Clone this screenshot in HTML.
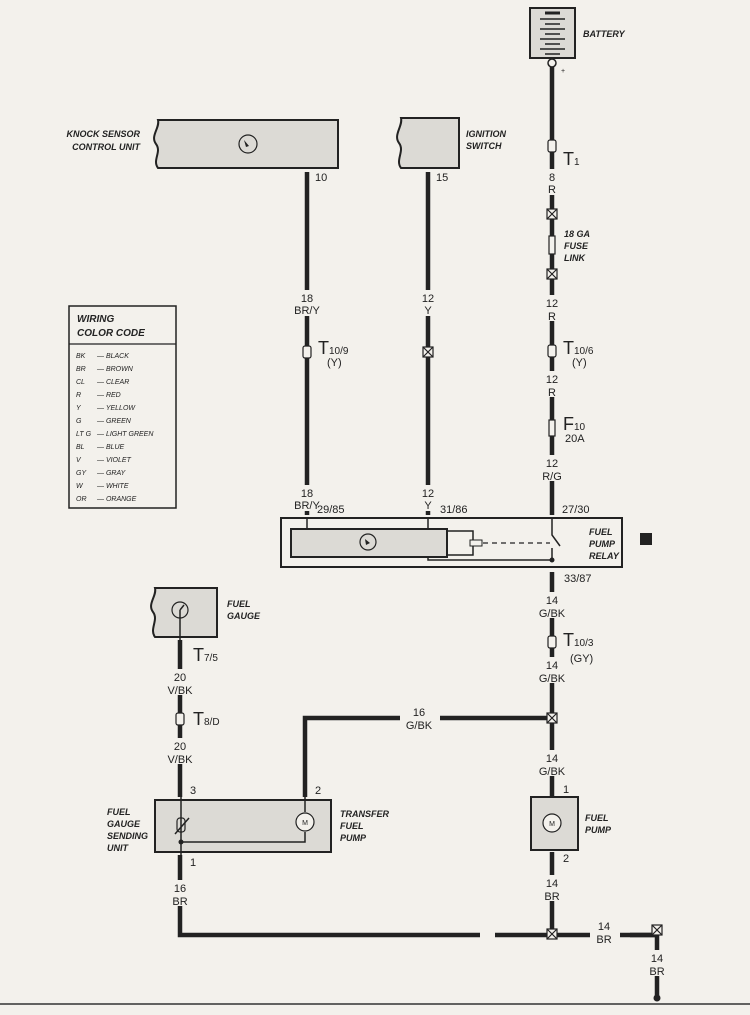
<!DOCTYPE html>
<html><head><meta charset="utf-8"><style>
html,body{margin:0;padding:0;background:#f3f1ec;}
svg{display:block;}
text{font-family:"Liberation Sans",sans-serif;fill:#222;}
.l{font-size:11px;}
.b{font-size:9px;font-weight:bold;font-style:italic;}
.t{font-size:7px;}
.w{stroke:#222;stroke-width:4.5;fill:none;}
.thin{stroke:#222;stroke-width:1.5;fill:none;}
.box{fill:#dcdad5;stroke:#222;stroke-width:2;}
</style></head><body>
<svg width="750" height="1015" viewBox="0 0 750 1015" xmlns="http://www.w3.org/2000/svg">
<!-- wires -->
<path class="w" d="M552 62 V515"/>
<path class="w" d="M307 172 V515"/>
<path class="w" d="M428 172 V515"/>
<path class="w" d="M552 572 V797"/>
<path class="w" d="M305 797 V718 H400 M440 718 H552"/>
<path class="w" d="M180 640 V797"/>
<path class="w" d="M552 852 V935 M180 855 V935 H480 M495 935 H657 V998"/>
<path class="w" d="M630 935 H657"/>
<line x1="0" y1="1004" x2="750" y2="1004" stroke="#333" stroke-width="1.5"/>
<circle cx="657" cy="998" r="3.5" fill="#222"/>
<!-- label gaps -->
<g fill="#f3f1ec">
<rect x="300" y="290" width="16" height="26"/><rect x="300" y="485" width="16" height="26"/>
<rect x="421" y="290" width="16" height="26"/><rect x="421" y="485" width="16" height="26"/>
<rect x="545" y="169" width="16" height="26"/><rect x="545" y="295" width="16" height="26"/>
<rect x="545" y="371" width="16" height="26"/><rect x="545" y="455" width="16" height="26"/>
<rect x="545" y="592" width="16" height="26"/><rect x="545" y="657" width="16" height="26"/>
<rect x="545" y="750" width="16" height="26"/><rect x="545" y="875" width="16" height="26"/>
<rect x="173" y="669" width="16" height="26"/><rect x="173" y="738" width="16" height="26"/>
<rect x="173" y="880" width="16" height="26"/><rect x="650" y="950" width="16" height="26"/>
<rect x="590" y="930" width="30" height="10"/>
</g>
<!-- battery -->
<rect x="530" y="8" width="45" height="50" class="box" fill="#dcdad5"/>
<g stroke="#222" stroke-width="1.5">
<line x1="545" y1="13" x2="560" y2="13" stroke-width="3"/>
<line x1="540" y1="19" x2="565" y2="19"/><line x1="545" y1="24" x2="560" y2="24"/>
<line x1="540" y1="29" x2="565" y2="29"/><line x1="545" y1="34" x2="560" y2="34"/>
<line x1="540" y1="39" x2="565" y2="39"/><line x1="545" y1="44" x2="560" y2="44"/>
<line x1="540" y1="49" x2="565" y2="49"/><line x1="545" y1="54" x2="560" y2="54"/>
</g>
<circle cx="552" cy="63" r="4" fill="#f3f1ec" stroke="#222" stroke-width="1.5"/>
<text class="b" x="583" y="37">BATTERY</text>
<text class="t" x="561" y="73">+</text>
<!-- connectors -->
<g fill="#f3f1ec" stroke="#222" stroke-width="1.2">
<rect x="548" y="140" width="8" height="12" rx="2"/>
<rect x="548" y="345" width="8" height="12" rx="2"/>
<rect x="548" y="636" width="8" height="12" rx="2"/>
<rect x="303" y="346" width="8" height="12" rx="2"/>
<rect x="176" y="713" width="8" height="12" rx="2"/>
<rect x="549" y="236" width="6" height="18"/>
<rect x="549" y="420" width="6" height="16"/>
</g>
<g fill="#f3f1ec" stroke="#222" stroke-width="1.2">
<rect x="547" y="209" width="10" height="10"/><path d="M547 209 L557 219 M557 209 L547 219"/>
<rect x="547" y="269" width="10" height="10"/><path d="M547 269 L557 279 M557 269 L547 279"/>
<rect x="423" y="347" width="10" height="10"/><path d="M423 347 L433 357 M433 347 L423 357"/>
<rect x="547" y="713" width="10" height="10"/><path d="M547 713 L557 723 M557 713 L547 723"/>
<rect x="547" y="929" width="10" height="10"/><path d="M547 929 L557 939 M557 929 L547 939"/>
<rect x="652" y="925" width="10" height="10"/><path d="M652 925 L662 935 M662 925 L652 935"/>
</g>
<text x="563" y="165" style="font-size:18px">T<tspan style="font-size:10px">1</tspan></text>
<text class="l" x="552" y="181" text-anchor="middle">8</text><text class="l" x="552" y="193" text-anchor="middle">R</text>
<text class="b" x="564" y="237">18 GA</text><text class="b" x="564" y="249">FUSE</text><text class="b" x="564" y="261">LINK</text>
<text class="l" x="552" y="307" text-anchor="middle">12</text><text class="l" x="552" y="320" text-anchor="middle">R</text>
<text x="563" y="354" style="font-size:18px">T<tspan style="font-size:10px">10/6</tspan></text>
<text class="l" x="572" y="366">(Y)</text>
<text class="l" x="552" y="383" text-anchor="middle">12</text><text class="l" x="552" y="396" text-anchor="middle">R</text>
<text x="563" y="430" style="font-size:18px">F<tspan style="font-size:10px">10</tspan></text>
<text class="l" x="565" y="442">20A</text>
<text class="l" x="552" y="467" text-anchor="middle">12</text><text class="l" x="552" y="480" text-anchor="middle">R/G</text>
<!-- knock sensor -->
<path class="box" d="M158 120 H338 V168 H158 C152 160 162 152 156 144 C150 136 160 128 158 120 Z"/>
<circle cx="248" cy="144" r="9" fill="none" stroke="#222" stroke-width="1.2"/>
<path d="M244 140 L249 146 L246 147 Z" fill="#222"/>
<text class="b" x="140" y="137" text-anchor="end">KNOCK SENSOR</text>
<text class="b" x="140" y="150" text-anchor="end">CONTROL UNIT</text>
<text class="l" x="315" y="181">10</text>
<text class="l" x="307" y="302" text-anchor="middle">18</text><text class="l" x="307" y="314" text-anchor="middle">BR/Y</text>
<text x="318" y="354" style="font-size:18px">T<tspan style="font-size:10px">10/9</tspan></text>
<text class="l" x="327" y="366">(Y)</text>
<text class="l" x="307" y="497" text-anchor="middle">18</text><text class="l" x="307" y="509" text-anchor="middle">BR/Y</text>
<!-- ignition -->
<path class="box" d="M401 118 H459 V168 H401 C395 160 405 151 399 143 C393 135 403 126 401 118 Z"/>
<text class="b" x="466" y="137">IGNITION</text><text class="b" x="466" y="149">SWITCH</text>
<text class="l" x="436" y="181">15</text>
<text class="l" x="428" y="302" text-anchor="middle">12</text><text class="l" x="428" y="314" text-anchor="middle">Y</text>
<text class="l" x="428" y="497" text-anchor="middle">12</text><text class="l" x="428" y="509" text-anchor="middle">Y</text>
<!-- color code -->
<rect x="69" y="306" width="107" height="202" fill="#f3f1ec" stroke="#222" stroke-width="1.5"/>
<line x1="69" y1="344" x2="176" y2="344" stroke="#222" stroke-width="1.2"/>
<text class="b" x="77" y="322" style="font-size:10px">WIRING</text>
<text class="b" x="77" y="336" style="font-size:10px">COLOR CODE</text>
<g class="t" style="font-style:italic">
<text x="76" y="358">BK</text><text x="97" y="358">— BLACK</text>
<text x="76" y="371">BR</text><text x="97" y="371">— BROWN</text>
<text x="76" y="384">CL</text><text x="97" y="384">— CLEAR</text>
<text x="76" y="397">R</text><text x="97" y="397">— RED</text>
<text x="76" y="410">Y</text><text x="97" y="410">— YELLOW</text>
<text x="76" y="423">G</text><text x="97" y="423">— GREEN</text>
<text x="76" y="436">LT G</text><text x="97" y="436">— LIGHT GREEN</text>
<text x="76" y="449">BL</text><text x="97" y="449">— BLUE</text>
<text x="76" y="462">V</text><text x="97" y="462">— VIOLET</text>
<text x="76" y="475">GY</text><text x="97" y="475">— GRAY</text>
<text x="76" y="488">W</text><text x="97" y="488">— WHITE</text>
<text x="76" y="501">OR</text><text x="97" y="501">— ORANGE</text>
</g>
<!-- relay -->
<rect x="281" y="518" width="341" height="49" fill="#f3f1ec" stroke="#222" stroke-width="2"/>
<rect x="291" y="529" width="156" height="28" class="box" stroke-width="1.5"/>
<path class="thin" d="M447 531 H473 V555 H447"/>
<rect x="470" y="540" width="12" height="6" fill="#f3f1ec" stroke="#222" stroke-width="1"/>
<path d="M483 543 H550" stroke="#222" stroke-width="1.3" stroke-dasharray="5,4"/>
<path class="thin" d="M307 518 V529 M428 518 V529 M552 518 V535 L560 546 M552 548 V560 H428 V557"/>
<circle cx="552" cy="560" r="2.5" fill="#222"/>
<circle cx="368" cy="542" r="8" fill="none" stroke="#222" stroke-width="1.2"/>
<path d="M365 539 L370 543 L366 545 Z" fill="#222"/>
<text class="l" x="317" y="513">29/85</text>
<text class="l" x="440" y="513">31/86</text>
<text class="l" x="562" y="513">27/30</text>
<text class="l" x="564" y="582">33/87</text>
<text class="b" x="589" y="535">FUEL</text><text class="b" x="589" y="547">PUMP</text><text class="b" x="589" y="559">RELAY</text>
<rect x="640" y="533" width="12" height="12" fill="#222"/>
<text class="l" x="552" y="604" text-anchor="middle">14</text><text class="l" x="552" y="617" text-anchor="middle">G/BK</text>
<text x="563" y="646" style="font-size:18px">T<tspan style="font-size:10px">10/3</tspan></text>
<text class="l" x="570" y="662">(GY)</text>
<text class="l" x="552" y="669" text-anchor="middle">14</text><text class="l" x="552" y="682" text-anchor="middle">G/BK</text>
<text class="l" x="419" y="716" text-anchor="middle">16</text><text class="l" x="419" y="729" text-anchor="middle">G/BK</text>
<text class="l" x="552" y="762" text-anchor="middle">14</text><text class="l" x="552" y="775" text-anchor="middle">G/BK</text>
<!-- fuel pump -->
<rect x="531" y="797" width="47" height="53" class="box"/>
<circle cx="552" cy="823" r="9" fill="#f3f1ec" stroke="#222" stroke-width="1.2"/>
<text x="552" y="826" text-anchor="middle" style="font-size:7px">M</text>
<text class="l" x="563" y="793">1</text><text class="l" x="563" y="862">2</text>
<text class="b" x="585" y="821">FUEL</text><text class="b" x="585" y="833">PUMP</text>
<text class="l" x="552" y="887" text-anchor="middle">14</text><text class="l" x="552" y="900" text-anchor="middle">BR</text>
<text class="l" x="604" y="930" text-anchor="middle">14</text><text class="l" x="604" y="943" text-anchor="middle">BR</text>
<text class="l" x="657" y="962" text-anchor="middle">14</text><text class="l" x="657" y="975" text-anchor="middle">BR</text>
<!-- fuel gauge -->
<path class="box" d="M155 588 H217 V637 H155 C149 629 159 620 153 612 C147 604 157 596 155 588 Z"/>
<circle cx="180" cy="610" r="8" fill="none" stroke="#222" stroke-width="1.2"/>
<path class="thin" d="M180 610 V640 M180 610 L184 605" stroke-width="1"/>
<text class="b" x="227" y="607">FUEL</text><text class="b" x="227" y="619">GAUGE</text>
<text x="193" y="661" style="font-size:18px">T<tspan style="font-size:10px">7/5</tspan></text>
<text class="l" x="180" y="681" text-anchor="middle">20</text><text class="l" x="180" y="694" text-anchor="middle">V/BK</text>
<text x="193" y="725" style="font-size:18px">T<tspan style="font-size:10px">8/D</tspan></text>
<text class="l" x="180" y="750" text-anchor="middle">20</text><text class="l" x="180" y="763" text-anchor="middle">V/BK</text>
<text class="l" x="190" y="794">3</text><text class="l" x="315" y="794">2</text>
<!-- sending unit -->
<rect x="155" y="800" width="176" height="52" class="box"/>
<path class="thin" d="M181 797 V855 M181 842 H305 V832 M305 812 V797"/>
<rect x="177" y="818" width="8" height="14" rx="3" fill="none" stroke="#222" stroke-width="1.2"/>
<path class="thin" d="M175 834 L189 818" stroke-width="1"/>
<circle cx="181" cy="842" r="2.5" fill="#222"/>
<circle cx="305" cy="822" r="9" fill="#f3f1ec" stroke="#222" stroke-width="1.2"/>
<text x="305" y="825" text-anchor="middle" style="font-size:7px">M</text>
<text class="b" x="107" y="815">FUEL</text><text class="b" x="107" y="827">GAUGE</text><text class="b" x="107" y="839">SENDING</text><text class="b" x="107" y="851">UNIT</text>
<text class="b" x="340" y="817">TRANSFER</text><text class="b" x="340" y="829">FUEL</text><text class="b" x="340" y="841">PUMP</text>
<text class="l" x="190" y="866">1</text>
<text class="l" x="180" y="892" text-anchor="middle">16</text><text class="l" x="180" y="905" text-anchor="middle">BR</text>
</svg>
</body></html>
